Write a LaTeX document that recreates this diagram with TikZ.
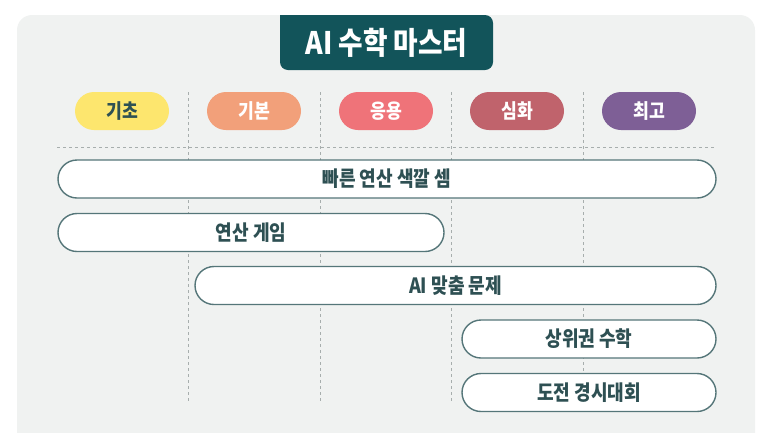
\documentclass[tikz,border=0pt]{standalone}
\usepackage{fontspec}
\setmainfont{Noto Sans CJK KR}[FakeStretch=0.86]
\usepackage{xcolor}
\usetikzlibrary{shapes.misc}

\definecolor{panel}{HTML}{F0F2F1}
\definecolor{titlebg}{HTML}{12545A}
\definecolor{barline}{HTML}{557679}
\definecolor{bartext}{HTML}{2E5053}
\definecolor{guidegray}{HTML}{A7AEAD}
\definecolor{lvlA}{HTML}{FDE66E}
\definecolor{lvlB}{HTML}{F2A07A}
\definecolor{lvlC}{HTML}{EF7379}
\definecolor{lvlD}{HTML}{C0636C}
\definecolor{lvlE}{HTML}{7E5F96}

\begin{document}
\begin{tikzpicture}[x=1pt,y=-1pt,
		level/.style={rounded rectangle, fill=#1, minimum width=94pt, minimum height=38pt, inner sep=0pt,
			text=white, font=\fontsize{20}{22}\selectfont\bfseries},
		bar/.style={rounded rectangle, draw=barline, fill=white, line width=1.4pt, minimum height=38pt,
			minimum width=#1, inner sep=0pt, text=bartext, font=\fontsize{21}{24}\selectfont\bfseries},
		guideline/.style={guidegray, line width=0.7pt, dash pattern=on 3pt off 3pt}]
				\useasboundingbox (0,0) rectangle (773,432);

				% panel and title
				\fill[panel, rounded corners=15pt] (17,15) rectangle (755,470);
				\fill[titlebg, rounded corners=8pt] (280,15) -- (280,70) -- (493,70) -- (493,15) [sharp corners] -- cycle;
				\node[text=white, font=\fontsize{31}{34}\selectfont\bfseries] (title) at (386.5,43) {AI 수학 마스터};

				% guides
				\draw[guideline] (57,147) -- (716,147);
				\foreach \x in {188,320,451,583}
					\draw[guideline] (\x,92) -- (\x,403);

				% levels
				\node[level=lvlA, text=bartext] (kicho) at (122,111) {기초};
				\node[level=lvlB] (kibon) at (254,111) {기본};
				\node[level=lvlC] (eungyong) at (386,111) {응용};
				\node[level=lvlD] (simhwa) at (517,111) {심화};
				\node[level=lvlE] (choego) at (649,111) {최고};

				% courses
				\node[bar=658pt] (speed) at (387,179) {빠른 연산 색깔 셈};
				\node[bar=386pt] (game) at (251,232.5) {연산 게임};
				\node[bar=521pt] (aiprob) at (455.5,285.5) {AI 맞춤 문제};
				\node[bar=254pt] (top) at (589,339) {상위권 수학};
				\node[bar=254pt] (contest) at (589,392.5) {도전 경시대회};
			\end{tikzpicture}
\end{document}
